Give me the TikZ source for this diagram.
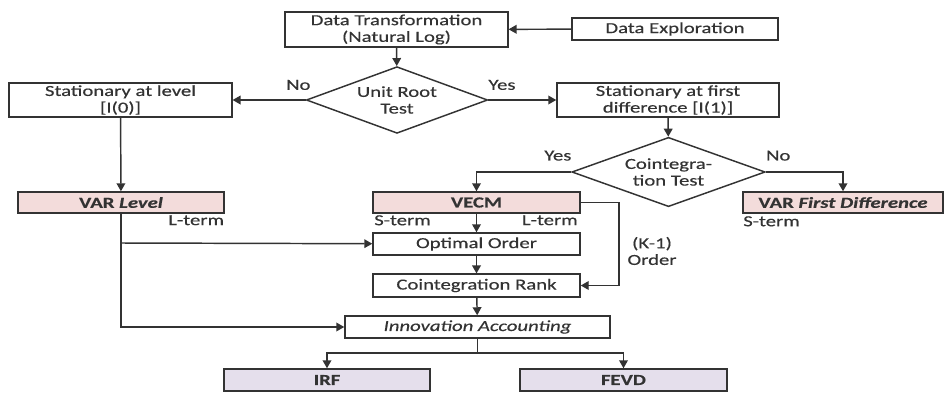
\documentclass[tikz,border=0pt]{standalone}
\usepackage{fontspec}
\setmainfont[FakeStretch=1.35,FakeBold=0.4]{Carlito}
\usepackage{xcolor}
\usetikzlibrary{arrows.meta,shapes.geometric}
\definecolor{boxline}{HTML}{333333}
\definecolor{varpink}{HTML}{F3DCDB}
\definecolor{reslilac}{HTML}{E5DFEC}
\tikzset{%
  tipA/.tip={Triangle[width=6.5pt,length=6pt]},
  flowbox/.style={draw=boxline, line width=1.1pt, rectangle, inner sep=1pt,
    align=center, text=boxline, font=\fontsize{11.5}{12.5}\selectfont},
  varbox/.style={flowbox, fill=varpink, font=\fontsize{11.5}{12.5}\selectfont\bfseries},
  resbox/.style={flowbox, fill=reslilac, font=\fontsize{11.5}{12.5}\selectfont\bfseries},
  testbox/.style={flowbox, diamond, aspect=2.7, inner sep=0pt},
  flowarrow/.style={draw=boxline, line width=1.1pt, -tipA},
  flowlabel/.style={text=boxline, inner sep=0pt, font=\fontsize{11.5}{12.5}\selectfont}
}

\begin{document}
\begin{tikzpicture}[x=0.75pt,y=-0.75pt]
\useasboundingbox (0,0) rectangle (945,393);
% top row
\node[flowbox, minimum width=167pt, minimum height=26pt] (dt) at (396.5,29.5) {Data Transformation\\(Natural Log)};
\node[flowbox, minimum width=154.5pt, minimum height=16.5pt] (de) at (675,29) {Data Exploration};
% unit root test
\node[testbox, minimum width=136pt, minimum height=50pt] (ur) at (397,100) {Unit Root\\Test};
\node[flowbox, minimum width=167pt, minimum height=25.5pt] (sl) at (120.5,100) {Stationary at level\\{[I(0)]}};
\node[flowbox, minimum width=166.5pt, minimum height=25.5pt] (sf) at (668,100) {Stationary at first\\difference [I(1)]};
% cointegration test
\node[testbox, minimum width=145pt, minimum height=52pt] (ct) at (668.5,172) {Cointegra-\\tion Test};
\node[varbox, minimum width=154.5pt, minimum height=15.75pt] (varl) at (121,202.5) {VAR \textit{Level}};
\node[varbox, minimum width=155.25pt, minimum height=15.75pt] (vecm) at (476.5,202.5) {VECM};
\node[varbox, minimum width=150pt, minimum height=15.75pt] (varfd) at (843,202.5) {VAR \textit{First Difference}};
% VECM steps
\node[flowbox, minimum width=155.25pt, minimum height=16.5pt] (oo) at (476.5,244) {Optimal Order};
\node[flowbox, minimum width=155.25pt, minimum height=17pt] (cr) at (476.5,285.5) {Cointegration Rank};
\node[flowbox, minimum width=198.75pt, minimum height=16.5pt] (ia) at (477.5,327) {\textit{Innovation Accounting}};
% results
\node[resbox, minimum width=154.5pt, minimum height=16.5pt] (irf) at (327,380) {IRF};
\node[resbox, minimum width=155.25pt, minimum height=16.5pt] (fevd) at (623.5,380) {FEVD};
% helper points
\coordinate (vlsplit) at (121,243);
\coordinate (vecmr) at (619,202.5);
\coordinate (iasplit) at (477.5,353);
% connectors
\draw[flowarrow] (de) -- (dt);
\draw[flowarrow] (dt) -- (ur);
\draw[flowarrow] (ur) -- node[flowlabel, above=7pt, pos=0.1] {No} (sl);
\draw[flowarrow] (ur) -- node[flowlabel, above=7pt, pos=0.2] {Yes} (sf);
\draw[flowarrow] (sl) -- (varl);
\draw[flowarrow] (sf) -- (ct);
\draw[flowarrow] (ct.west) -| node[flowlabel, above=8pt, pos=0.07] {Yes} (vecm);
\draw[flowarrow] (ct.east) -| node[flowlabel, above=8pt, pos=0.08] {No} (varfd);
\draw[flowarrow] (varl) |- (ia);
\draw[flowarrow] (vlsplit) -- (oo);
\draw[flowarrow] (vecm) -- (oo);
\draw[flowarrow] (oo) -- (cr);
\draw[flowarrow] (cr) -- (ia);
\draw[flowarrow] (vecm.east) -- (vecmr) |- (cr.east);
\draw[draw=boxline, line width=1.1pt] (ia) -- (iasplit);
\draw[flowarrow] (iasplit) -| (irf);
\draw[flowarrow] (iasplit) -| (fevd);
% labels
\node[flowlabel, anchor=north west] (ltv) at (168,215) {L-term};
\node[flowlabel, anchor=north west] (stv) at (374,215) {S-term};
\node[flowlabel, anchor=north east] (ltm) at (578,215) {L-term};
\node[flowlabel, anchor=north west] (stf) at (743,216) {S-term};
\node[flowlabel, align=center] (kord) at (652,251) {(K-1)\\Order};
\end{tikzpicture}
\end{document}
